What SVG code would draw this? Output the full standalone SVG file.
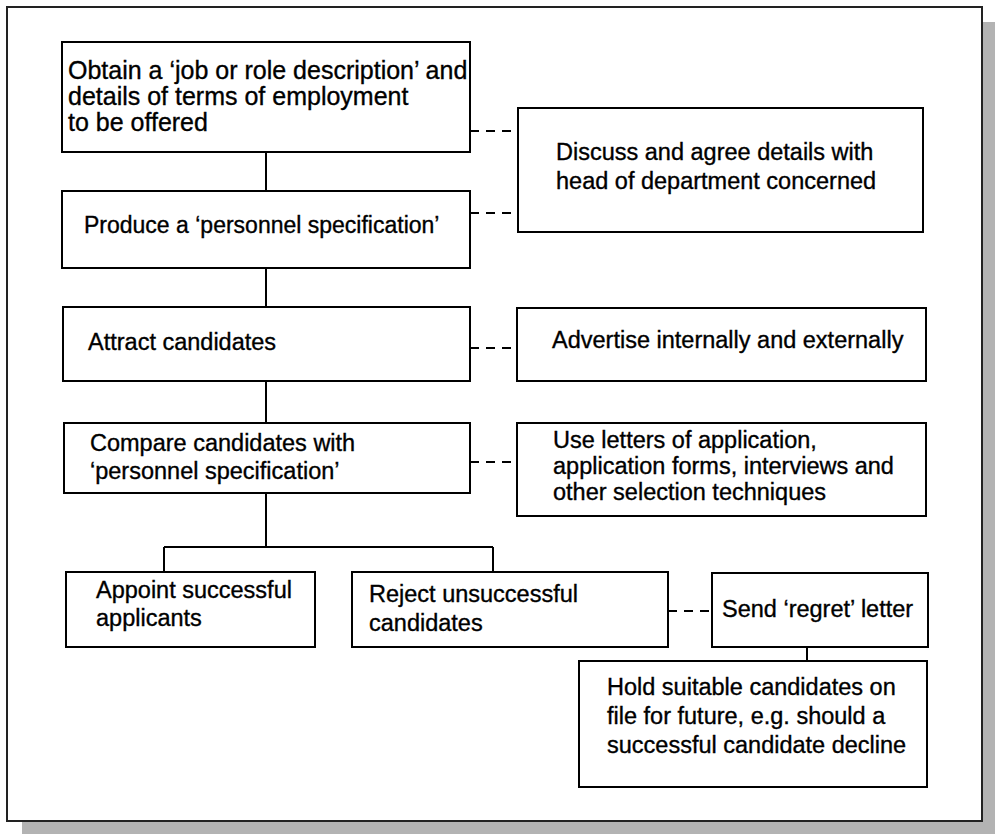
<svg xmlns="http://www.w3.org/2000/svg" width="995" height="834" viewBox="0 0 995 834">
<style>
.box{fill:#fff;stroke:#000;stroke-width:2}
.t{font-family:"Liberation Sans",Arial,sans-serif;font-size:23.5px;fill:#000;stroke:#000;stroke-width:0.35}
.big{font-size:25px}
.c{fill:none;stroke:#000;stroke-width:2}
.d{fill:none;stroke:#000;stroke-width:2;stroke-dasharray:9,7}
</style>
<rect x="22" y="22" width="973" height="812" fill="#b3b3b3"/>
<rect x="7" y="7" width="975" height="814" fill="#fff" stroke="#222" stroke-width="2"/>
<g id="connectors">
<path class="c" d="M266 152V191M266 268V307M266 381V423M266 493V547M164 547H493M164 547V572M493 547V572M807 647V661"/>
<path class="d" d="M470 131H518M470 213H518M470 348H517M470 462H517M668 611H712"/>
</g>
<g id="n1"><rect class="box" x="62" y="42" width="408" height="110"/>
<text class="t big" x="68" y="79">Obtain a ‘job or role description’ and</text>
<text class="t big" x="68" y="105">details of terms of employment</text>
<text class="t big" x="68" y="131">to be offered</text></g>
<g id="n2"><rect class="box" x="62" y="191" width="408" height="77"/>
<text class="t" x="84" y="233" style="font-size:23px">Produce a ‘personnel specification’</text></g>
<g id="n3"><rect class="box" x="63" y="307" width="407" height="74"/>
<text class="t" x="88" y="350">Attract candidates</text></g>
<g id="n4"><rect class="box" x="64" y="423" width="406" height="70"/>
<text class="t" x="90" y="451">Compare candidates with</text>
<text class="t" x="90" y="479">‘personnel specification’</text></g>
<g id="n5"><rect class="box" x="66" y="572" width="249" height="75"/>
<text class="t" x="96" y="598">Appoint successful</text>
<text class="t" x="96" y="626">applicants</text></g>
<g id="n6"><rect class="box" x="352" y="572" width="316" height="75"/>
<text class="t" x="369" y="602">Reject unsuccessful</text>
<text class="t" x="369" y="631">candidates</text></g>
<g id="n7"><rect class="box" x="712" y="573" width="216" height="74"/>
<text class="t" x="722" y="617">Send ‘regret’ letter</text></g>
<g id="n8"><rect class="box" x="579" y="661" width="348" height="126"/>
<text class="t" x="607" y="695">Hold suitable candidates on</text>
<text class="t" x="607" y="724">file for future, e.g. should a</text>
<text class="t" x="607" y="753">successful candidate decline</text></g>
<g id="n9"><rect class="box" x="518" y="108" width="405" height="124"/>
<text class="t" x="556" y="160">Discuss and agree details with</text>
<text class="t" x="556" y="189">head of department concerned</text></g>
<g id="n10"><rect class="box" x="517" y="308" width="409" height="73"/>
<text class="t" x="552" y="348">Advertise internally and externally</text></g>
<g id="n11"><rect class="box" x="517" y="423" width="409" height="93"/>
<text class="t" x="553" y="448">Use letters of application,</text>
<text class="t" x="553" y="474">application forms, interviews and</text>
<text class="t" x="553" y="500">other selection techniques</text></g>
</svg>
